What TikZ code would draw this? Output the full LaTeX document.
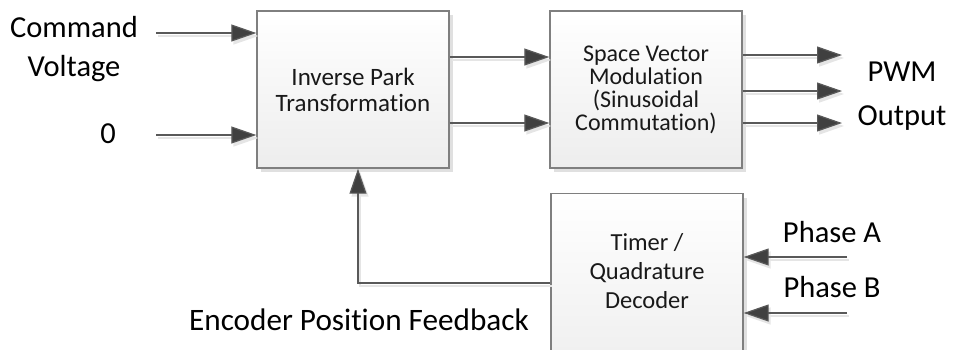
\documentclass[tikz,border=0pt]{standalone}
\usepackage{fontspec}
\setmainfont{Carlito}[Ligatures={NoCommon}]
\usetikzlibrary{arrows.meta,shadows}
\definecolor{boxline}{HTML}{7F7F7F}
\definecolor{arrline}{HTML}{595959}
\definecolor{arrhead}{HTML}{404040}
\definecolor{boxbot}{HTML}{EDEDED}
\tikzset{
  blk/.style={draw=boxline, line width=1.4pt, top color=white, bottom color=boxbot,
    minimum width=192pt, minimum height=157pt, inner sep=0pt,
    drop shadow={shadow xshift=4pt, shadow yshift=-4pt, fill=black!12, opacity=1}},
  blktext/.style={align=center, font=\fontsize{25}{26}\selectfont, text=black!90},
  outer/.style={align=center, font=\fontsize{30.5}{40}\selectfont, text=black, inner sep=0pt},
  conn/.style={draw=arrline, line width=1.2pt,
    -{Triangle[length=25pt,width=17pt,fill=arrhead]},
    preaction={draw=black!10, line width=1.6pt, transform canvas={shift={(2pt,-3pt)}},
      -{Triangle[length=25pt,width=17pt,fill=black!10]}}},
  line/.style={draw=arrline, line width=1.2pt}
}
\begin{document}
\begin{tikzpicture}[x=1pt,y=-1pt]
\useasboundingbox (0,0) rectangle (959,349);
\begin{scope}
\clip (0,0) rectangle (959,349);
% blocks
\node[blk, blktext] (ipark) at (353,89.5) {Inverse Park\\Transformation};
\node[blk, blktext, font=\fontsize{24}{23}\selectfont] (svm) at (646,89.5) {Space Vector\\Modulation\\(Sinusoidal\\Commutation)};
\node[blk, minimum height=190pt, anchor=north] (timer) at (647,193) {};
\node[blktext, font=\fontsize{24.5}{29}\selectfont] (timertext) at (647,271) {Timer /\\Quadrature\\Decoder};
% labels
\node[outer, font=\fontsize{30.5}{39}\selectfont] (cmd) at (74,49) {Command\\Voltage};
\node[outer] (zero) at (108,134) {0};
\node[outer, font=\fontsize{30.5}{44}\selectfont] (pwm) at (902,96) {PWM\\Output};
\node[outer, anchor=base] (pha) at (832,242) {Phase A};
\node[outer, anchor=base] (phb) at (832,297) {Phase B};
\node[outer, anchor=base, font=\fontsize{31.2}{40}\selectfont] (enc) at (359,330) {Encoder Position Feedback};
% free ends
\coordinate (cin) at (156,33);
\coordinate (zin) at (156,135);
\coordinate (o1) at (842,55);
\coordinate (o2) at (842,91);
\coordinate (o3) at (842,123);
\coordinate (pain) at (847,257);
\coordinate (pbin) at (847,313);
\coordinate (fb) at (358,283);
% connectors
\draw[conn] (cin) -- (cin -| ipark.west);
\draw[conn] (zin) -- (zin -| ipark.west);
\draw[conn] ([yshift=32.5pt]ipark.east) -- ([yshift=32.5pt]svm.west);
\draw[conn] ([yshift=-33.5pt]ipark.east) -- ([yshift=-33.5pt]svm.west);
\draw[conn] (o1 -| svm.east) -- (o1);
\draw[conn] (o2 -| svm.east) -- (o2);
\draw[conn] (o3 -| svm.east) -- (o3);
\draw[conn] (pain) -- (pain -| timer.east);
\draw[conn] (pbin) -- (pbin -| timer.east);
\draw[conn] (fb -| timer.west) -- (fb) -- (fb |- ipark.south);
\end{scope}
\end{tikzpicture}
\end{document}
